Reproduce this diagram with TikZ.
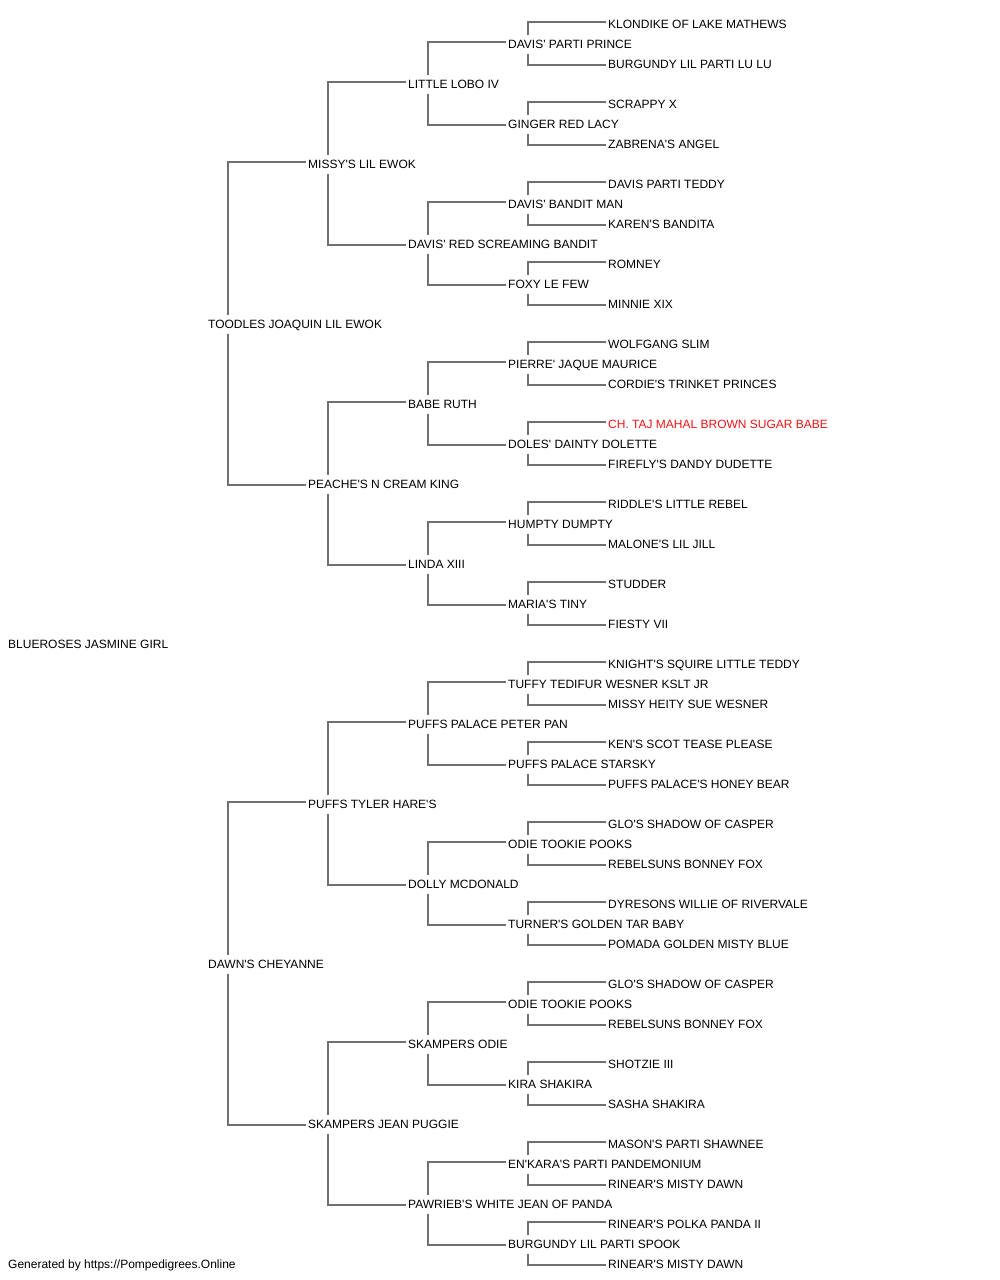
\documentclass[tikz,border=0pt]{standalone}
\usepackage{fontspec}
\setmainfont{Liberation Sans}
\usetikzlibrary{calc}
\definecolor{lncol}{RGB}{112,112,112}
\definecolor{redname}{RGB}{240,20,20}
\newcommand{\ap}{\textquotesingle}
\begin{document}
\begin{tikzpicture}[x=1pt,y=1pt,
  nm/.style={anchor=west,inner sep=0pt,text height=8.6pt,text depth=0pt,font=\fontsize{12}{14}\selectfont,text=black},
  ln/.style={draw=lncol,line width=1.3pt}]
\useasboundingbox (0,0) rectangle (1000,-1280);
% generation 1
\node[nm] (g1-0) at (8,-644) {BLUEROSES JASMINE GIRL};
% generation 2
\foreach \t [count=\i from 0] in {TOODLES JOAQUIN LIL EWOK,DAWN\ap{}S CHEYANNE}
  \node[nm] (g2-\i) at (208,{-(324+640*\i)}) {\t};
% generation 3
\foreach \t [count=\i from 0] in {MISSY\ap{}S LIL EWOK,PEACHE\ap{}S N CREAM KING,PUFFS TYLER HARE\ap{}S,SKAMPERS JEAN PUGGIE}
  \node[nm] (g3-\i) at (308,{-(164+320*\i)}) {\t};
% generation 4
\foreach \t [count=\i from 0] in {LITTLE LOBO IV,DAVIS\ap{} RED SCREAMING BANDIT,BABE RUTH,LINDA XIII,PUFFS PALACE PETER PAN,DOLLY MCDONALD,SKAMPERS ODIE,PAWRIEB\ap{}S WHITE JEAN OF PANDA}
  \node[nm] (g4-\i) at (408,{-(84+160*\i)}) {\t};
% generation 5
\foreach \t [count=\i from 0] in {DAVIS\ap{} PARTI PRINCE,GINGER RED LACY,DAVIS\ap{} BANDIT MAN,FOXY LE FEW,PIERRE\ap{} JAQUE MAURICE,DOLES\ap{} DAINTY DOLETTE,HUMPTY DUMPTY,MARIA\ap{}S TINY,TUFFY TEDIFUR WESNER KSLT JR,PUFFS PALACE STARSKY,ODIE TOOKIE POOKS,TURNER\ap{}S GOLDEN TAR BABY,ODIE TOOKIE POOKS,KIRA SHAKIRA,EN\ap{}KARA\ap{}S PARTI PANDEMONIUM,BURGUNDY LIL PARTI SPOOK}
  \node[nm] (g5-\i) at (508,{-(44+80*\i)}) {\t};
% generation 6
\foreach \t [count=\i from 0] in {KLONDIKE OF LAKE MATHEWS,BURGUNDY LIL PARTI LU LU,SCRAPPY X,ZABRENA\ap{}S ANGEL,DAVIS PARTI TEDDY,KAREN\ap{}S BANDITA,ROMNEY,MINNIE XIX,WOLFGANG SLIM,CORDIE\ap{}S TRINKET PRINCES,{\textcolor{redname}{CH. TAJ MAHAL BROWN SUGAR BABE}},FIREFLY\ap{}S DANDY DUDETTE,RIDDLE\ap{}S LITTLE REBEL,MALONE\ap{}S LIL JILL,STUDDER,FIESTY VII,KNIGHT\ap{}S SQUIRE LITTLE TEDDY,MISSY HEITY SUE WESNER,KEN\ap{}S SCOT TEASE PLEASE,PUFFS PALACE\ap{}S HONEY BEAR,GLO\ap{}S SHADOW OF CASPER,REBELSUNS BONNEY FOX,DYRESONS WILLIE OF RIVERVALE,POMADA GOLDEN MISTY BLUE,GLO\ap{}S SHADOW OF CASPER,REBELSUNS BONNEY FOX,SHOTZIE III,SASHA SHAKIRA,MASON\ap{}S PARTI SHAWNEE,RINEAR\ap{}S MISTY DAWN,RINEAR\ap{}S POLKA PANDA II,RINEAR\ap{}S MISTY DAWN}
  \node[nm] (g6-\i) at (608,{-(24+40*\i)}) {\t};
% footer
\node[nm] (foot) at (8,-1264) {Generated by https://Pompedigrees.Online};
% connectors
\foreach \g/\n [evaluate=\g as \h using int(\g+1)] in {2/1,3/3,4/7,5/15}{
  \foreach \i in {0,...,\n}{
    \pgfmathtruncatemacro{\a}{2*\i}
    \pgfmathtruncatemacro{\b}{2*\i+1}
    \draw[ln] ($(g\g-\i.west)+(20,9)$) |- ($(g\h-\a.west)+(-2,2)$);
    \draw[ln] ($(g\g-\i.west)+(20,-10)$) |- ($(g\h-\b.west)+(-2,-1)$);
  }
}
\end{tikzpicture}
\end{document}
